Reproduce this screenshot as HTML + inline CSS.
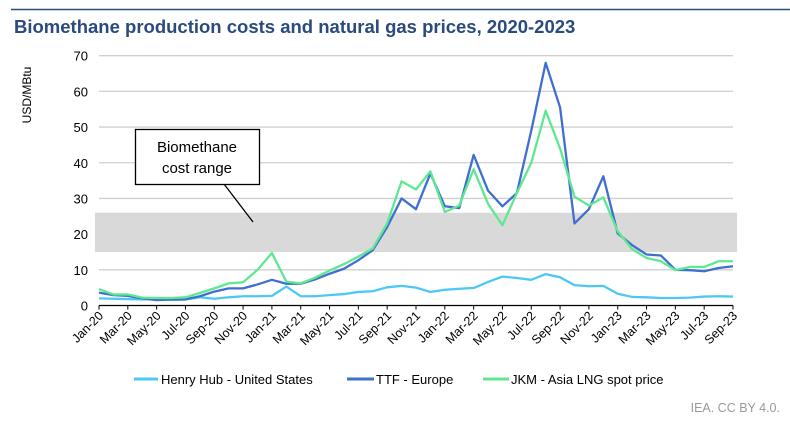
<!DOCTYPE html>
<html><head><meta charset="utf-8"><style>
body{margin:0;background:#fff;width:790px;height:422px;overflow:hidden;font-family:"Liberation Sans",Arial,sans-serif}
svg text{font-family:"Liberation Sans",Arial,sans-serif}
</style></head><body>
<svg id="c" width="790" height="422">
<line x1="11" y1="9.5" x2="790" y2="9.5" stroke="#2b4a7e" stroke-width="1.5"/>
<text x="14" y="33" font-size="18.5" font-weight="bold" fill="#2b4a7e">Biomethane production costs and natural gas prices, 2020-2023</text>
<text transform="translate(31,95) rotate(-90)" font-size="12" text-anchor="middle" fill="#000">USD/MBtu</text>
<g id="grid"></g>
<rect id="band" fill="#d9d9d9"/>
<g id="series"></g>
<g id="axis"></g>
<line x1="224" y1="184" x2="253" y2="222" stroke="#000" stroke-width="1.3"/>
<rect x="135.5" y="129.5" width="124" height="55" fill="#fff" stroke="#000" stroke-width="1.3"/>
<text x="197" y="152" font-size="15" text-anchor="middle">Biomethane</text>
<text x="197" y="173" font-size="15" text-anchor="middle">cost range</text>
<g>
<line x1="134" y1="379" x2="158" y2="379" stroke="#4dc8f5" stroke-width="3"/>
<text x="161" y="384" font-size="13">Henry Hub - United States</text>
<line x1="347" y1="379" x2="374" y2="379" stroke="#3f6fcf" stroke-width="3"/>
<text x="376" y="384" font-size="13">TTF - Europe</text>
<line x1="483" y1="379" x2="509" y2="379" stroke="#5ee88f" stroke-width="3"/>
<text x="511" y="384" font-size="13">JKM - Asia LNG spot price</text>
</g>
<text x="780" y="412" font-size="12.5" fill="#999" text-anchor="end">IEA. CC BY 4.0.</text>
</svg>
<script>
const months=["Jan-20","Feb-20","Mar-20","Apr-20","May-20","Jun-20","Jul-20","Aug-20","Sep-20","Oct-20","Nov-20","Dec-20","Jan-21","Feb-21","Mar-21","Apr-21","May-21","Jun-21","Jul-21","Aug-21","Sep-21","Oct-21","Nov-21","Dec-21","Jan-22","Feb-22","Mar-22","Apr-22","May-22","Jun-22","Jul-22","Aug-22","Sep-22","Oct-22","Nov-22","Dec-22","Jan-23","Feb-23","Mar-23","Apr-23","May-23","Jun-23","Jul-23","Aug-23","Sep-23"];
const henryHub=[2.0,1.9,1.8,1.7,1.8,1.6,1.7,2.3,1.9,2.3,2.6,2.6,2.7,5.3,2.6,2.6,2.9,3.2,3.8,4.0,5.1,5.5,5.0,3.8,4.4,4.7,4.9,6.6,8.1,7.7,7.2,8.8,7.9,5.7,5.4,5.5,3.3,2.4,2.3,2.1,2.1,2.2,2.5,2.6,2.5];
const ttf=[3.6,2.9,2.7,2.0,1.5,1.7,1.7,2.6,3.9,4.8,4.8,5.9,7.2,6.1,6.1,7.3,8.9,10.3,12.7,15.5,22,30,27,37,27.8,27.3,42.2,32.2,27.8,31.5,49,68,55.5,23,27,36.2,20.2,16.9,14.3,14.0,10,9.9,9.6,10.5,11];
const jkm=[4.6,3.1,3.1,2.2,2.1,2.1,2.3,3.5,4.8,6.2,6.5,10,14.7,6.7,6.2,7.8,9.8,11.6,13.7,16,23,34.8,32.5,37.6,26.2,28,38.2,28.5,22.5,31.5,40,54.6,44,30.5,28,30.3,20.8,15.8,13.3,12.4,9.9,10.8,10.8,12.4,12.4];
const yTicks=[0,10,20,30,40,50,60,70];
const bandRange=[15,26];
const NS="http://www.w3.org/2000/svg";
const X0=99,X1=733,Y0=305.5,Y1=55.7,YMAX=70;
function xs(i){return X0+(X1-X0)*i/(months.length-1);}
function ys(v){return Y0-(Y0-Y1)*v/YMAX;}
function mk(tag,attrs,parent){const e=document.createElementNS(NS,tag);for(const k in attrs)e.setAttribute(k,attrs[k]);parent.appendChild(e);return e;}
const grid=document.getElementById('grid'),axis=document.getElementById('axis'),series=document.getElementById('series');
yTicks.forEach(v=>{
  if(v>0){const l=mk('line',{x1:X0,x2:X1,y1:ys(v),y2:ys(v),stroke:'#d0d0d0','stroke-width':1.3},grid);
  
  }
  const t=mk('text',{x:88,y:ys(v)+5,'font-size':13,'text-anchor':'end'},axis);
  t.textContent=v;
  
  
});
const band=document.getElementById('band');
band.setAttribute('x',X0-4);band.setAttribute('width',X1-X0+8);
band.setAttribute('y',ys(bandRange[1]));band.setAttribute('height',ys(bandRange[0])-ys(bandRange[1]));
function drawLine(data,color,name){
  const p=mk('polyline',{points:data.map((v,i)=>xs(i)+','+ys(v)).join(' '),fill:'none',stroke:color,'stroke-width':2.3,'stroke-linejoin':'round'},series);
  
  
}
drawLine(henryHub,'#4dc8f5','line-henry-hub');
drawLine(ttf,'#3f6fcf','line-ttf');
drawLine(jkm,'#5ee88f','line-jkm');
const ax=mk('line',{x1:X0,x2:X1,y1:Y0,y2:Y0,stroke:'#000','stroke-width':1.2},axis);


months.forEach((m,i)=>{
  if(i%2)return;
  const x=xs(i);
  const tk=mk('line',{x1:x,x2:x,y1:Y0,y2:Y0+4,stroke:'#000','stroke-width':1},axis);
  
  
  const t=mk('text',{transform:`translate(${x+5},${Y0+11}) rotate(-45)`,'font-size':12.5,'text-anchor':'end'},axis);
  t.textContent=m;
  
  
});
</script>
</body></html>
